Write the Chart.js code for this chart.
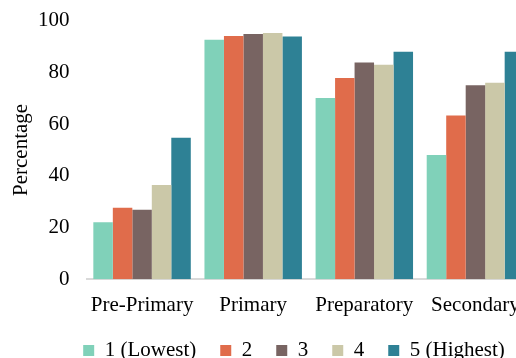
<!DOCTYPE html>
<html>
<head>
<meta charset="utf-8">
<script src="https://cdn.jsdelivr.net/npm/chart.js@4"></script>
<style>
  html, body { margin: 0; padding: 0; overflow: hidden; background: #fff; }
  #wrap { width: 588px; height: 358px; }
</style>
</head>
<body>
<div id="wrap"><canvas id="myChart"></canvas></div>
<script>
// categories and values
var levels = ["Pre-Primary", "Primary", "Preparatory", "Secondary"];
var seriesNames = ["1 (Lowest)", "2", "3", "4", "5 (Highest)"];
var q1 = [22, 92.6, 70.1, 48];
var q2 = [27.6, 94, 77.8, 63.3];
var q3 = [26.9, 94.8, 83.8, 75];
var q4 = [36.4, 95.2, 82.9, 75.9];
var q5 = [54.7, 93.8, 87.9, 87.9];
var yTicks = [0, 20, 40, 60, 80, 100];

var colors = ["#80d1b9", "#e06c4b", "#786462", "#cbc8a8", "#2e8195"];
var allValues = [q1, q2, q3, q4, q5];

Chart.defaults.font.family = "'Liberation Serif', 'Times New Roman', serif";
Chart.defaults.font.size = 21;
Chart.defaults.color = "#000";

var datasets = [];
for (var i = 0; i < seriesNames.length; i++) {
	datasets.push({
		label: seriesNames[i],
		data: allValues[i],
		backgroundColor: colors[i],
		borderWidth: 0,
		barPercentage: 1,
		categoryPercentage: 0.877
	});
}

var canvasElement = document.getElementById("myChart");
var config = {
	type: "bar",
	data: { labels: levels, datasets: datasets },
	options: {
		responsive: true,
		maintainAspectRatio: false,
		animation: false,
		layout: { padding: { top: 20.5, right: 0, left: 0, bottom: -13 } },
		plugins: {
			tooltip: { enabled: false },
			legend: {
				position: "bottom",
				labels: { boxWidth: 11, boxHeight: 11, padding: 24 }
			}
		},
		scales: {
			x: {
				grid: { display: false },
				border: { display: true, color: "#d9d9d9", width: 2 },
				ticks: { padding: 6, maxRotation: 0 },
				afterFit: function (scale) { scale.height -= 8.5; }
			},
			y: {
				min: 0,
				max: 100,
				afterBuildTicks: function (scale) {
					scale.ticks = yTicks.map(function (v) { return { value: v }; });
				},
				afterFit: function (scale) {
					scale.width = 86.5;
					scale.paddingTop = 0;
					scale.paddingBottom = 0;
				},
				grid: { display: false, drawTicks: false },
				border: { display: false },
				ticks: { padding: 17 },
				title: {
					display: true,
					text: "Percentage",
					padding: { top: 9, bottom: 0 }
				}
			},
			// empty spacer on the right so the plot runs past the window edge
			spacer: {
				type: "linear",
				position: "right",
				grid: { display: false },
				border: { display: false },
				ticks: { display: false },
				afterFit: function (scale) {
					scale.width = 57;
					scale.paddingTop = 0;
					scale.paddingBottom = 0;
				}
			}
		}
	}
};
var myChart = new Chart(canvasElement, config);
</script>
</body>
</html>
